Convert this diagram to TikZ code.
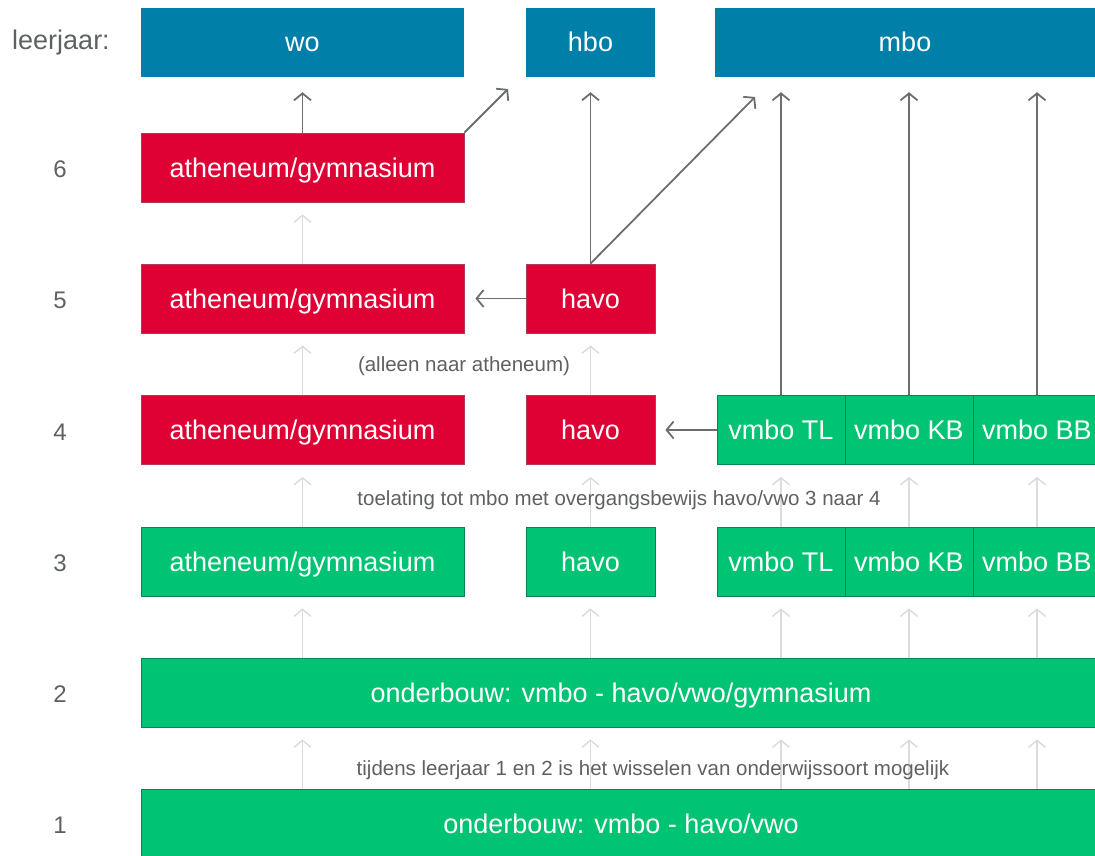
\documentclass[tikz,border=0pt]{standalone}
\usepackage{fontspec}
\setmainfont{Liberation Sans}
\usetikzlibrary{arrows.meta}

\definecolor{wblue}{HTML}{007FA8}
\definecolor{wred}{HTML}{DF0034}
\definecolor{wgreen}{HTML}{00C373}
\definecolor{wline}{HTML}{6B6E6E}
\definecolor{wlight}{HTML}{DCDCDC}
\definecolor{wtext}{HTML}{5E6162}

\tikzset{
  box/.style={minimum height=69pt, inner sep=0pt, text=white, text height=24pt, text depth=5pt,
    font=\fontsize{27}{32}\selectfont},
  bluebox/.style={box, fill=wblue},
  redbox/.style={box, fill=wred, draw=wred!55!gray, line width=0.8pt},
  greenbox/.style={box, fill=wgreen, draw=wgreen!70!black, line width=0.8pt},
  jaar/.style={anchor=base, text=wtext, font=\fontsize{24}{28}\selectfont},
  note/.style={text=wtext, font=\fontsize{20.5}{24}\selectfont},
  route/.style={draw=wline, line width=1.8pt, -{Straight Barb[length=7pt,width=17pt]}},
  wissel/.style={draw=wlight, line width=1.5pt, -{Straight Barb[length=7pt,width=17pt]}, shorten >=12pt},
}

\begin{document}
\begin{tikzpicture}[x=1pt,y=-1pt]
\useasboundingbox (0,0) rectangle (1095,856);
% -- vervolgopleidingen
\node[bluebox, minimum width=323pt] (wo)  at (302.5,42.5) {wo};
\node[bluebox, minimum width=129pt] (hbo) at (590.5,42.5) {hbo};
\node[bluebox, minimum width=380pt] (mbo) at (905,42.5) {mbo};
% -- leerjaren
\node[jaar, font=\fontsize{27}{32}\selectfont] (lj) at (61,49.5) {leerjaar:};
\node[jaar] (lj6) at (60,177.5) {6};
\node[jaar] (lj5) at (60,308.5) {5};
\node[jaar] (lj4) at (60,440)   {4};
\node[jaar] (lj3) at (60,571.5) {3};
\node[jaar] (lj2) at (60,702.5) {2};
\node[jaar] (lj1) at (60,833.5) {1};
% -- bovenbouw
\node[redbox, minimum width=323pt] (ath6) at (302.5,167.5) {atheneum/gymnasium};
\node[redbox, minimum width=323pt] (ath5) at (302.5,298.5) {atheneum/gymnasium};
\node[redbox, minimum width=129pt] (havo5) at (590.5,298.5) {havo};
\node[redbox, minimum width=323pt] (ath4) at (302.5,430) {atheneum/gymnasium};
\node[redbox, minimum width=129pt] (havo4) at (590.5,430) {havo};
\node[greenbox, minimum width=128pt] (tl4) at (781,430) {vmbo TL};
\node[greenbox, minimum width=128pt] (kb4) at (909,430) {vmbo KB};
\node[greenbox, minimum width=128pt] (bb4) at (1037,430) {vmbo BB};
\node[greenbox, minimum width=323pt] (ath3) at (302.5,561.5) {atheneum/gymnasium};
\node[greenbox, minimum width=129pt] (havo3) at (590.5,561.5) {havo};
\node[greenbox, minimum width=128pt] (tl3) at (781,561.5) {vmbo TL};
\node[greenbox, minimum width=128pt] (kb3) at (909,561.5) {vmbo KB};
\node[greenbox, minimum width=128pt] (bb3) at (1037,561.5) {vmbo BB};
% -- onderbouw
\node[greenbox, minimum width=960pt] (ond2) at (621,692.5) {onderbouw: vmbo - havo/vwo/gymnasium};
\node[greenbox, minimum width=960pt] (ond1) at (621,823.5) {onderbouw: vmbo - havo/vwo};
% -- doorstroom binnen school
\draw[wissel] (ath5.north) -- (ath6.south);
\draw[wissel] (ath4.north) -- (ath5.south);
\draw[wissel] (havo4.north) -- (havo5.south);
\draw[wissel] (ath3.north) -- (ath4.south);
\draw[wissel] (havo3.north) -- (havo4.south);
\draw[wissel] (tl3.north) -- (tl4.south);
\draw[wissel] (kb3.north) -- (kb4.south);
\draw[wissel] (bb3.north) -- (bb4.south);
\draw[wissel] (ond2.north -| ath3) -- (ath3.south);
\draw[wissel] (ond2.north -| havo3) -- (havo3.south);
\draw[wissel] (ond2.north -| tl3) -- (tl3.south);
\draw[wissel] (ond2.north -| kb3) -- (kb3.south);
\draw[wissel] (ond2.north -| bb3) -- (bb3.south);
\draw[wissel] (ond1.north -| ath3) -- (ond2.south -| ath3);
\draw[wissel] (ond1.north -| havo3) -- (ond2.south -| havo3);
\draw[wissel] (ond1.north -| tl3) -- (ond2.south -| tl3);
\draw[wissel] (ond1.north -| kb3) -- (ond2.south -| kb3);
\draw[wissel] (ond1.north -| bb3) -- (ond2.south -| bb3);
% -- doorstroom naar vervolgopleiding
\coordinate (hbo-in) at (508,89);
\coordinate (mbo-in) at (755,97);
\draw[route, shorten >=15pt] (ath6.north) -- (ath6.north |- wo.south);
\draw[route] (ath6.north east) -- (hbo-in);
\draw[route, shorten >=15pt] (havo5.north) -- (havo5.north |- hbo.south);
\draw[route] (havo5.north) -- (mbo-in);
\draw[route, shorten >=15pt] (tl4.north) -- (tl4.north |- mbo.south);
\draw[route, shorten >=15pt] (kb4.north) -- (kb4.north |- mbo.south);
\draw[route, shorten >=15pt] (bb4.north) -- (bb4.north |- mbo.south);
\draw[route, shorten >=11pt] (havo5.west) -- (ath5.east);
\draw[route, shorten >=10pt] (tl4.west) -- (havo4.east);
% -- toelichting
\node[note] (n5) at (464,366) {(alleen naar atheneum)};
\node[note] (n4) at (619,500) {toelating tot mbo met overgangsbewijs havo/vwo 3 naar 4};
\node[note] (n2) at (653,770) {tijdens leerjaar 1 en 2 is het wisselen van onderwijssoort mogelijk};
\end{tikzpicture}
\end{document}
